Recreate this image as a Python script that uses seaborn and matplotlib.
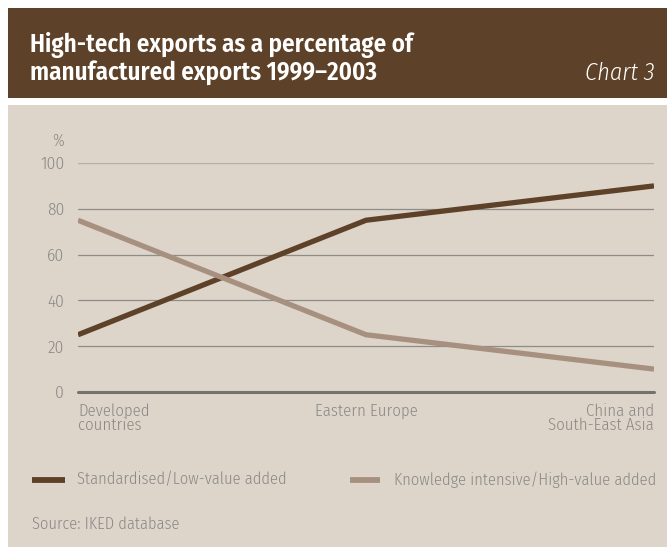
import matplotlib
matplotlib.use("Agg")
import matplotlib.pyplot as plt
from matplotlib.patches import Rectangle
from matplotlib.lines import Line2D
import pandas as pd
import seaborn as sns

# Data
regions = ["Developed\ncountries", "Eastern Europe", "China and\nSouth-East Asia"]
standardised = [25, 75, 90]
knowledge = [75, 25, 10]
series_names = ["Standardised/Low-value added", "Knowledge intensive/High-value added"]
y_ticks = [0, 20, 40, 60, 80, 100]

BROWN = "#5D4128"
LIGHT = "#A89080"
PANEL = "#DDD5C9"
TEXT = "#8A8886"

sns.set_theme(style="white")
BODY = ["Fira Sans Condensed", "Roboto", "DejaVu Sans"]
plt.rcParams["font.family"] = BODY
plt.rcParams["font.weight"] = 300

W, H = 667, 547
fig = plt.figure(figsize=(W / 100, H / 100), dpi=100)
fig.patch.set_facecolor("white")


def fx(px):
    return px / W


def fy(py):
    return 1 - py / H


# Header band and panel background
fig.patches.append(Rectangle((fx(8), fy(98)), fx(W - 8), 90 / H, transform=fig.transFigure,
                             facecolor=BROWN, edgecolor="none", zorder=-10))
fig.patches.append(Rectangle((fx(8), 0), fx(W - 8), fy(105), transform=fig.transFigure,
                             facecolor=PANEL, edgecolor="none", zorder=-10))

fig.text(fx(30), fy(52), "High-tech exports as a percentage of", color="white",
         fontsize=18, fontweight=600, family=BODY, va="baseline", ha="left")
fig.text(fx(30), fy(80), "manufactured exports 1999\u20132003", color="white",
         fontsize=18, fontweight=600, family=BODY, va="baseline", ha="left")
fig.text(fx(655), fy(80), "Chart 3", color="white", fontsize=17.5, style="italic",
         fontweight=300, family=BODY, va="baseline", ha="right")

ax = fig.add_axes([fx(78), fy(392), fx(654 - 78), (392 - 163) / H])
ax.set_facecolor("none")
ax.set_zorder(5)

df = pd.DataFrame({
    "region": regions * 2,
    "value": standardised + knowledge,
    "series": [series_names[0]] * 3 + [series_names[1]] * 3,
})
sns.lineplot(data=df, x="region", y="value", hue="series", ax=ax,
             palette=[BROWN, LIGHT], linewidth=3.8, legend=False, zorder=3,
             solid_capstyle="butt")

ax.set_xlim(0, 2)
ax.set_ylim(0, 100)
ax.set_xlabel("")
ax.set_ylabel("")
for s in ax.spines.values():
    s.set_visible(False)

for v in y_ticks[1:]:
    if v == 100:
        ax.axhline(v, color="#B3AEA6", linewidth=1.6, zorder=1)
    else:
        ax.axhline(v, color="#8E8C88", linewidth=0.9, zorder=1)
ax.axhline(0, color="#75726E", linewidth=2.2, zorder=2, clip_on=False)

ax.set_yticks(y_ticks)
ax.set_yticklabels([str(v) for v in y_ticks])
ax.tick_params(axis="y", length=0, pad=10, labelsize=12.5, labelcolor=TEXT)

ax.set_xticks([0, 1, 2])
ax.set_xticklabels(regions)
ax.tick_params(axis="x", length=5, width=2, color="#75726E", pad=3, labelsize=12,
               labelcolor=TEXT, direction="out")
labels = ax.get_xticklabels()
labels[0].set_ha("left")
labels[1].set_ha("center")
labels[2].set_ha("right")
for lab in labels:
    lab.set_linespacing(0.9)
labels[2].set_multialignment("right")

fig.text(fx(58), fy(141), "%", color=TEXT, fontsize=11.5, ha="center", va="center")

# Legend
fig.add_artist(Line2D([fx(32), fx(65)], [fy(480), fy(480)], color=BROWN, linewidth=4.2,
                      transform=fig.transFigure, solid_capstyle="butt"))
fig.text(fx(77), fy(480), series_names[0], color=TEXT, fontsize=11.8, va="center", ha="left")
fig.add_artist(Line2D([fx(350), fx(380)], [fy(480), fy(480)], color=LIGHT, linewidth=4.2,
                      transform=fig.transFigure, solid_capstyle="butt"))
fig.text(fx(394), fy(480), series_names[1], color=TEXT, fontsize=11.8, va="center", ha="left")

fig.text(fx(32), fy(524), "Source: IKED database", color=TEXT, fontsize=11.8,
         va="center", ha="left")

fig.savefig("out.png", dpi=100, facecolor=fig.get_facecolor())
